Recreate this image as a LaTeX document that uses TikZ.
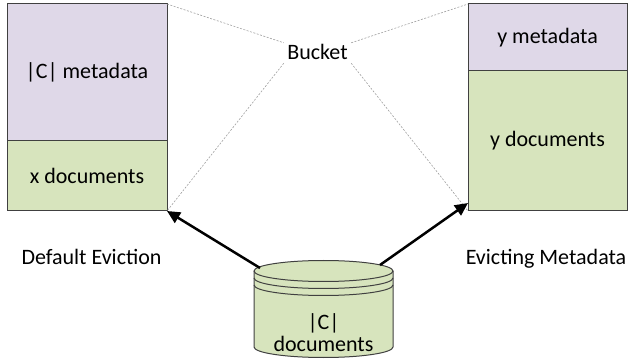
\documentclass[tikz,border=0pt]{standalone}
\usepackage{fontspec}
\setmainfont{Carlito}
\usepackage{tikz}
\usetikzlibrary{positioning,arrows.meta}
\tikzset{>={Triangle[length=13pt,width=12pt]}}
\definecolor{metapurple}{RGB}{223,216,232}
\definecolor{docgreen}{RGB}{215,228,189}
\definecolor{edgegray}{RGB}{64,64,64}
\definecolor{linkgray}{RGB}{160,160,160}
\tikzset{
  cell/.style={draw=edgegray, line width=1pt, outer sep=0pt, inner sep=0pt,
    minimum width=160pt},
  link/.style={draw=linkgray, line width=0.6pt, dash pattern=on 2pt off 1.5pt}
}

\begin{document}
\begin{tikzpicture}[x=1pt, y=1pt, font=\fontsize{22}{22}\selectfont]
            \useasboundingbox (0,0) rectangle (630,362);

            % Default eviction bucket
            \node[cell, fill=metapurple, minimum height=137pt, anchor=north west] (cmeta) at (7,358) {|C| metadata};
            \node[cell, fill=docgreen, minimum height=70pt, below=0pt of cmeta] (xdoc) {x documents};
            \node[anchor=base] (deflabel) at (91.5,97) {Default Eviction};

            % Evicting metadata bucket
            \node[cell, fill=metapurple, minimum width=159pt, minimum height=67pt, anchor=north west] (ymeta) at (468,358) {y metadata};
            \node[cell, fill=docgreen, minimum width=159pt, minimum height=140pt, below=0pt of ymeta] (ydoc) {y documents};
            \node[anchor=base] (evlabel) at (546,97) {Evicting Metadata};

            % Bucket label and its guide lines
            \node[minimum width=67pt, minimum height=20pt, inner sep=0pt, text height=14pt, text depth=0pt] (bucket) at (317.5,309) {Bucket};
            \draw[link] (cmeta.north east) -- (bucket.north west);
            \draw[link] (bucket.south west) -- (xdoc.south east);
            \draw[link] (bucket.north east) -- (ymeta.north west);
            \draw[link] (bucket.south east) -- (ydoc.south west);

            % Document store
            \filldraw[fill=docgreen, draw=edgegray, line width=1pt] (254,91) -- (254,15)
                arc[start angle=180, end angle=360, x radius=69.5, y radius=10.5] -- (393,91)
                arc[start angle=0, end angle=180, x radius=69.5, y radius=10.5] -- cycle;
            \foreach \y in {91, 84, 77} {
                \draw[edgegray, line width=1pt] (254,\y) arc[start angle=180, end angle=360, x radius=69.5, y radius=10.5];
            }
            \node[align=center, inner sep=0pt] (store) at (323.5,29) {|C|\\documents};
            \coordinate (storeL) at (260,94);
            \coordinate (storeR) at (380,97);

            % Eviction arrows
            \draw[->, line width=2.5pt] (storeL) -- (xdoc.south east);
            \draw[->, line width=2.5pt] (storeR) -- ([yshift=8pt]ydoc.south west);

        \end{tikzpicture}
\end{document}
